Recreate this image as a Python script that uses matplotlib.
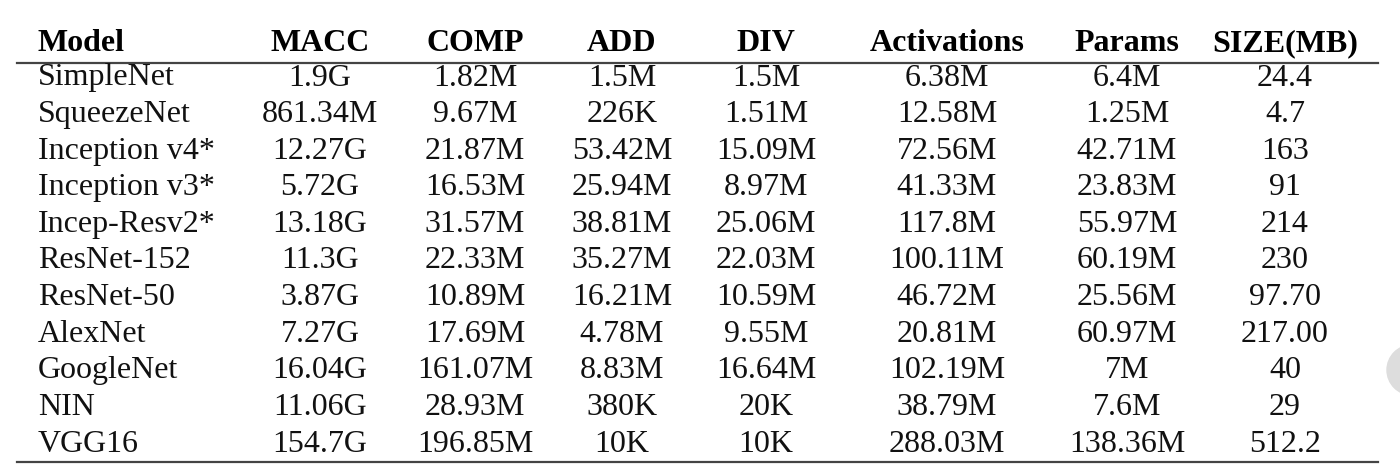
import matplotlib
matplotlib.use("Agg")
from matplotlib import pyplot as plt

# Table contents
header = ["Model", "MACC", "COMP", "ADD", "DIV", "Activations", "Params", "SIZE(MB)"]
models = ["SimpleNet", "SqueezeNet", "Inception v4*", "Inception v3*", "Incep-Resv2*",
          "ResNet-152", "ResNet-50", "AlexNet", "GoogleNet", "NIN", "VGG16"]
macc = ["1.9G", "861.34M", "12.27G", "5.72G", "13.18G", "11.3G", "3.87G", "7.27G", "16.04G", "11.06G", "154.7G"]
comp = ["1.82M", "9.67M", "21.87M", "16.53M", "31.57M", "22.33M", "10.89M", "17.69M", "161.07M", "28.93M", "196.85M"]
add = ["1.5M", "226K", "53.42M", "25.94M", "38.81M", "35.27M", "16.21M", "4.78M", "8.83M", "380K", "10K"]
div = ["1.5M", "1.51M", "15.09M", "8.97M", "25.06M", "22.03M", "10.59M", "9.55M", "16.64M", "20K", "10K"]
activations = ["6.38M", "12.58M", "72.56M", "41.33M", "117.8M", "100.11M", "46.72M", "20.81M", "102.19M", "38.79M", "288.03M"]
params = ["6.4M", "1.25M", "42.71M", "23.83M", "55.97M", "60.19M", "25.56M", "60.97M", "7M", "7.6M", "138.36M"]
size_mb = ["24.4", "4.7", "163", "91", "214", "230", "97.70", "217.00", "40", "29", "512.2"]

columns = [macc, comp, add, div, activations, params, size_mb]
col_x = [320, 475, 622, 766, 947, 1127, 1285]

W, H = 1400, 475
fig = plt.figure(figsize=(W / 100, H / 100), dpi=100)
ax = fig.add_axes([0, 0, 1, 1])
ax.set_xlim(0, W)
ax.set_ylim(H, 0)
ax.axis("off")

font = "Liberation Serif"
fs = 23

# header
ax.text(38, 51, header[0], ha="left", va="baseline", fontsize=fs, fontweight="bold", family=font)
for x, h in zip(col_x, header[1:]):
    ax.text(x, 51, h, ha="center", va="baseline", fontsize=fs, fontweight="bold", family=font)

ax.plot([17, 1378], [63, 63], color="#444444", lw=1.6)
ax.plot([17, 1378], [462, 462], color="#444444", lw=1.6)

y0, dy = 85.5, 36.6
for i, m in enumerate(models):
    y = y0 + i * dy
    ax.text(38, y, m, ha="left", va="baseline", fontsize=fs, family=font, color="#111111")
    for x, col in zip(col_x, columns):
        ax.text(x, y, col[i], ha="center", va="baseline", fontsize=fs, family=font, color="#111111")

# partially visible grey button at right edge
ax.add_patch(plt.Circle((1412, 370), 25, color="#dddddd", clip_on=True))

fig.savefig("out.png", dpi=100)
